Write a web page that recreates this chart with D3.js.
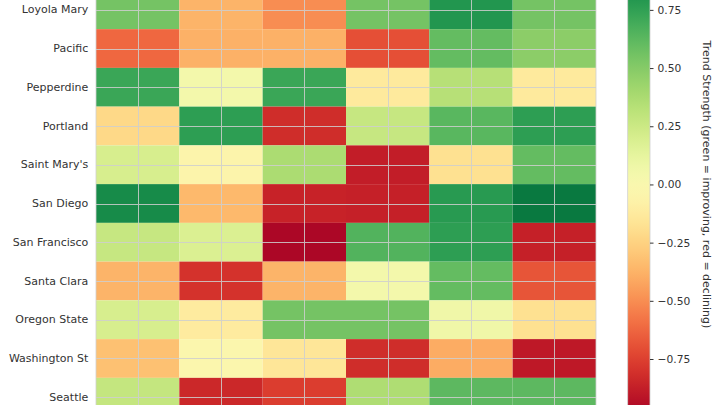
<!DOCTYPE html>
<html><head><meta charset="utf-8">
<script src="https://cdn.jsdelivr.net/npm/d3@7"></script>
<style>body{margin:0;background:#fff}svg{display:block}text{font-family:"DejaVu Sans",sans-serif}</style>
</head><body><svg id="c" width="720" height="405"></svg>
<script>
const teams = ["Loyola Mary","Pacific","Pepperdine","Portland","Saint Mary's","San Diego","San Francisco","Santa Clara","Oregon State","Washington St","Seattle"];
const periods = ["P1","P2","P3","P4","P5","P6"];
const trendValues = [
  [0.55, -0.37, -0.50, 0.55, 0.80, 0.55],
  [-0.62, -0.38, -0.38, -0.70, 0.60, 0.48],
  [0.72, 0.05, 0.72, -0.13, 0.33, -0.13],
  [-0.22, 0.76, -0.82, 0.27, 0.63, 0.76],
  [0.20, -0.05, 0.37, -0.88, -0.18, 0.60],
  [0.85, -0.35, -0.86, -0.87, 0.78, 0.93],
  [0.27, 0.18, -0.97, 0.65, 0.76, -0.87],
  [-0.37, -0.80, -0.37, 0.05, 0.60, -0.68],
  [0.20, -0.12, 0.55, 0.55, 0.07, -0.18],
  [-0.32, -0.03, -0.15, -0.82, -0.40, -0.90],
  [0.28, -0.84, -0.76, 0.36, 0.62, 0.62]
];
const cbTicks = [-0.75,-0.5,-0.25,0,0.25,0.5,0.75];
const cbLabel = "Trend Strength (green = improving, red = declining)";

const svg = d3.select("#c");
const x = d3.scaleBand().domain(periods).range([96, 596]).padding(0);
const y = d3.scaleBand().domain(teams).range([-9.6, 416.6]).padding(0);
const color = d3.scaleSequential(d3.interpolateRdYlGn).domain([-1, 1]);

const cells = [];
trendValues.forEach((row, i) => row.forEach((v, j) => cells.push({team: teams[i], period: periods[j], v})));
svg.append("g").selectAll("rect").data(cells).join("rect")
  .attr("x", d => x(d.period)).attr("y", d => y(d.team))
  .attr("width", x.bandwidth()).attr("height", y.bandwidth())
  .attr("fill", d => color(d.v));

// grid lines at category centres
const grid = svg.append("g").attr("stroke", "#cfcfcf").attr("stroke-width", 1).attr("opacity", 0.85);
periods.forEach(p => {
  const cx = Math.round(x(p) + x.bandwidth() / 2) + 0.5;
  grid.append("line").attr("x1", cx).attr("x2", cx).attr("y1", y.range()[0]).attr("y2", y.range()[1]);
});
teams.forEach(t => {
  const cy = Math.round(y(t) + y.bandwidth() / 2) + 0.5;
  grid.append("line").attr("x1", x.range()[0]).attr("x2", x.range()[1]).attr("y1", cy).attr("y2", cy);
});
svg.append("rect").attr("x", 96).attr("y", y.range()[0]).attr("width", 500).attr("height", y.range()[1]-y.range()[0])
  .attr("fill", "none").attr("stroke", "#d0d0d0").attr("stroke-width", 0.8);

// y labels
const yAxis = svg.append("g").attr("transform", "translate(96,0)")
  .call(d3.axisLeft(y).tickSize(0).tickPadding(7.7));
yAxis.select(".domain").remove();
yAxis.selectAll("text").attr("font-size", "11px").attr("fill", "#333").attr("font-family", "DejaVu Sans");

// colorbar
const cbScale = d3.scaleLinear().domain([-1, 1]).range([417.2, -48.3]);
const defs = svg.append("defs");
const grad = defs.append("linearGradient").attr("id", "cbg").attr("x1", 0).attr("x2", 0).attr("y1", 1).attr("y2", 0);
d3.range(0, 1.0001, 0.02).forEach(t => grad.append("stop").attr("offset", t).attr("stop-color", d3.interpolateRdYlGn(t)));
svg.append("rect").attr("x", 627.7).attr("y", cbScale(1)).attr("width", 22.3).attr("height", cbScale(-1) - cbScale(1))
  .attr("fill", "url(#cbg)").attr("stroke", "#d0d0d0").attr("stroke-width", 0.8);
const cbAxis = svg.append("g").attr("transform", "translate(650,0)")
  .call(d3.axisRight(cbScale).tickValues(cbTicks).tickSize(3.5).tickPadding(4).tickFormat(d3.format(".2f")));
cbAxis.select(".domain").remove();
cbAxis.selectAll("line").attr("stroke", "#333");
cbAxis.selectAll("text").attr("font-size", "10.7px").attr("fill", "#333").attr("font-family", "DejaVu Sans");

svg.append("text").attr("transform", `translate(703,${cbScale(0)}) rotate(90)`)
  .attr("text-anchor", "middle").attr("font-size", "11px").attr("fill", "#333").text(cbLabel);
</script></body></html>
